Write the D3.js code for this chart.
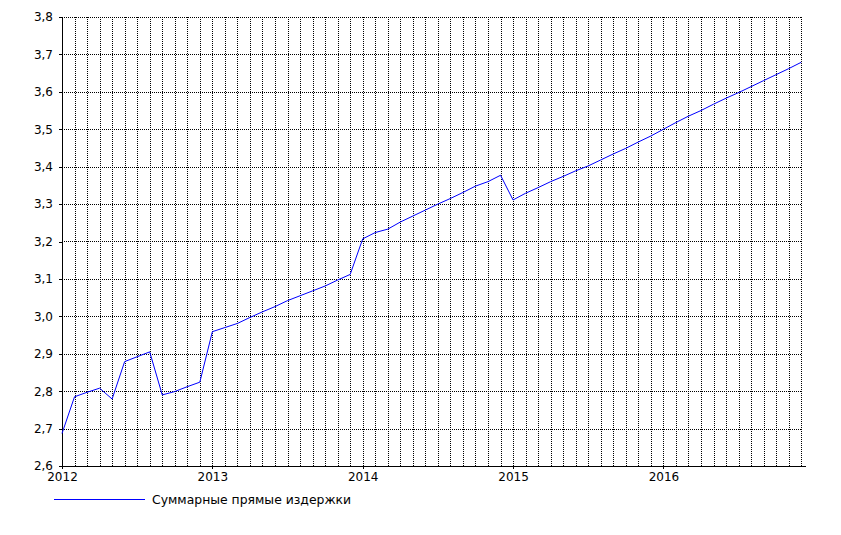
<!DOCTYPE html>
<html><head><meta charset="utf-8">
<script src="https://cdn.jsdelivr.net/npm/d3@7"></script>
<style>
html,body{margin:0;padding:0;background:#fff;}
svg{display:block;}
text{font-family:"DejaVu Sans",sans-serif;font-size:12px;fill:#000;}
</style></head>
<body><svg id="c" width="841" height="535"></svg>
<script>
// Monthly values, Jan 2012 .. Dec 2016
const months = d3.range(60);
const yearLabels = ["2012","2013","2014","2015","2016"];
const yTicks = [2.6,2.7,2.8,2.9,3.0,3.1,3.2,3.3,3.4,3.5,3.6,3.7,3.8];
const seriesName = "Суммарные прямые издержки";
const values = [
  2.687,2.785,2.797,2.808,2.779,2.879,2.892,2.905,2.790,2.799,2.812,2.824,
  2.959,2.970,2.981,2.997,3.012,3.026,3.042,3.055,3.068,3.081,3.097,3.112,
  3.207,3.224,3.233,3.252,3.268,3.284,3.300,3.315,3.331,3.348,3.360,3.377,
  3.311,3.329,3.344,3.360,3.374,3.389,3.402,3.418,3.434,3.449,3.466,3.482,
  3.500,3.518,3.535,3.550,3.567,3.583,3.598,3.614,3.630,3.646,3.662,3.679
];

const svg = d3.select("#c");
const x = d3.scaleLinear().domain([0, 59.3]).range([62, 805]);
const y = d3.scaleLinear().domain([2.6, 3.8]).range([466, 17]);
const xEnd = x(59);

const grid = svg.append("g").attr("shape-rendering","crispEdges")
  .attr("stroke","#000").attr("stroke-width",1).attr("stroke-dasharray","1,1");
grid.selectAll("line.h").data(yTicks.slice(1)).enter().append("line")
  .attr("x1", x(0)).attr("x2", xEnd)
  .attr("y1", d => Math.round(y(d)) + 0.5).attr("y2", d => Math.round(y(d)) + 0.5);
grid.selectAll("line.v").data(months.slice(1)).enter().append("line")
  .attr("x1", d => Math.round(x(d)) + 0.5).attr("x2", d => Math.round(x(d)) + 0.5)
  .attr("y1", y(3.8)).attr("y2", y(2.6));

// axes
const yAxis = d3.axisLeft(y).tickValues(yTicks).tickSize(3).tickPadding(6)
  .tickFormat(d => d3.format(".1f")(d).replace(".", ","));
const gy = svg.append("g").attr("transform", "translate(62,0)").call(yAxis);
gy.select(".domain").remove();
gy.selectAll("line").attr("shape-rendering","crispEdges");
gy.selectAll("text").style("font-family","DejaVu Sans").style("font-size","12px");

const xAxis = d3.axisBottom(x).tickValues(yearLabels.map((d,i)=>i*12))
  .tickFormat((d,i)=>yearLabels[i]).tickSize(3).tickPadding(3);
const gx = svg.append("g").attr("transform", "translate(0,466)").call(xAxis);
gx.select(".domain").remove();
gx.selectAll("line").attr("shape-rendering","crispEdges");
gx.selectAll("text").style("font-family","DejaVu Sans").style("font-size","12px");

svg.append("line").attr("x1", 62.5).attr("x2", 62.5).attr("y1", y(3.8)).attr("y2", 466.5)
  .attr("stroke","#000").attr("shape-rendering","crispEdges");
svg.append("line").attr("x1", 62).attr("x2", 806).attr("y1", 466.5).attr("y2", 466.5)
  .attr("stroke","#000").attr("shape-rendering","crispEdges");

// series
const line = d3.line().x((d,i) => x(i)).y(d => y(d));
svg.append("path").datum(values).attr("d", line)
  .attr("fill","none").style("stroke","#0000ff").attr("stroke-width",1);

// legend
svg.append("rect").attr("x",54).attr("y",499).attr("width",91).attr("height",1)
  .style("fill","#0000ff");
svg.append("text").attr("x",152).attr("y",504).style("font-size","12.4px").text(seriesName);
</script></body></html>
